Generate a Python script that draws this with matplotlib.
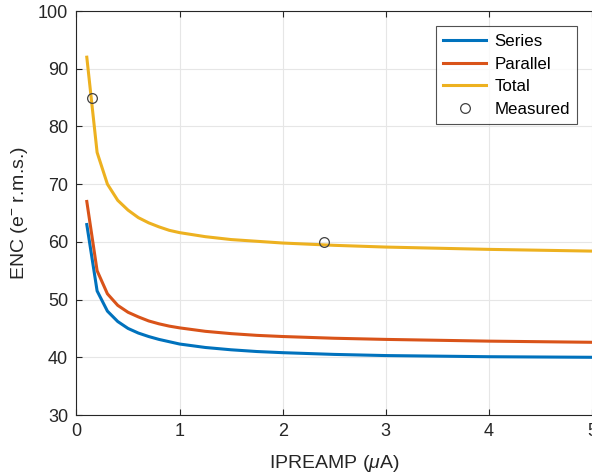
import numpy as np
import matplotlib
matplotlib.use("Agg")
import matplotlib.pyplot as plt

plt.rcParams['font.family'] = ['Liberation Sans', 'DejaVu Sans']
plt.rcParams['mathtext.fontset'] = 'custom'
plt.rcParams['mathtext.rm'] = 'Liberation Sans'
plt.rcParams['mathtext.it'] = 'Liberation Sans:italic'

# preamp bias current (uA) and noise contributions (e- rms)
ipreamp = [0.1, 0.2, 0.3, 0.4, 0.5, 0.6, 0.7, 0.8, 0.9, 1.0,
           1.25, 1.5, 1.75, 2.0, 2.5, 3.0, 3.5, 4.0, 4.5, 5.0]
series = [63.0, 51.5, 48.0, 46.2, 45.0, 44.2, 43.6, 43.1, 42.7, 42.3,
          41.7, 41.3, 41.0, 40.8, 40.5, 40.3, 40.2, 40.1, 40.05, 40.0]
parallel = [67.0, 55.0, 51.0, 49.0, 47.8, 47.0, 46.3, 45.8, 45.4, 45.1,
            44.5, 44.1, 43.8, 43.6, 43.3, 43.1, 42.95, 42.8, 42.7, 42.6]
total = [92.0, 75.5, 70.0, 67.2, 65.5, 64.2, 63.3, 62.6, 62.0, 61.6,
         60.9, 60.4, 60.1, 59.8, 59.4, 59.1, 58.9, 58.7, 58.55, 58.4]

meas_x = [0.15, 2.4]
meas_y = [85, 60]

fig = plt.figure(figsize=(5.92, 4.75), dpi=100)
ax = fig.add_axes([0.1292, 0.1263, 0.8708, 0.8505])

ax.plot(ipreamp, series, color='#0072BD', lw=2.2, label='Series')
ax.plot(ipreamp, parallel, color='#D95319', lw=2.2, label='Parallel')
ax.plot(ipreamp, total, color='#EDB120', lw=2.2, label='Total')
ax.plot(meas_x, meas_y, 'o', ms=7, mfc='none', mec='#404040', mew=0.9,
        label='Measured')

ax.set_xlim(0, 5)
ax.set_ylim(30, 100)
ax.set_xticks(np.arange(0, 6, 1))
ax.set_yticks(np.arange(30, 101, 10))
ax.grid(True, color='#e6e6e6', lw=0.8)
ax.set_axisbelow(True)
for s in ['left', 'bottom', 'top']:
    ax.spines[s].set_color('#262626')
    ax.spines[s].set_linewidth(0.8)
ax.spines['right'].set_visible(False)
ax.tick_params(direction='in', length=4, width=0.8, colors='#262626',
               labelsize=13, top=True, pad=6)

ax.set_xlabel('IPREAMP ($\\mu$A)', fontsize=14, color='#262626', labelpad=9)
ax.set_ylabel('ENC (e$^{-}$ r.m.s.)', fontsize=14, color='#262626', labelpad=6)

leg = ax.legend(loc='upper right', bbox_to_anchor=(0.988, 0.983), fontsize=12.2,
                frameon=True, fancybox=False, edgecolor='#262626',
                handlelength=2.5, borderpad=0.45, labelspacing=0.45,
                handletextpad=0.5)
leg.get_frame().set_linewidth(0.8)

fig.savefig('out.png', dpi=100)
